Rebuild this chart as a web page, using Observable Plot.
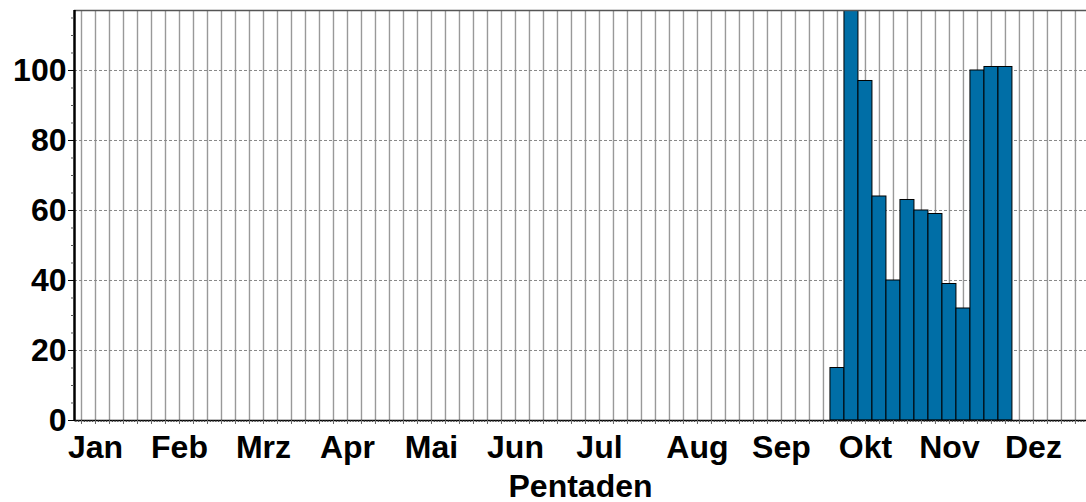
<!DOCTYPE html>
<html><head><meta charset="utf-8">
<script src="https://cdn.jsdelivr.net/npm/d3@7"></script>
<script src="https://cdn.jsdelivr.net/npm/@observablehq/plot@0.6"></script>
<style>body{margin:0;background:#fff;} svg{display:block;}</style>
</head><body><div id="chart"></div>
<script>
// Data
const pentads = d3.range(1, 74); // 73 pentads of the year
const barPentads = [55, 56, 57, 58, 59, 60, 61, 62, 63, 64, 65, 66, 67];
const barValues = [15, 117, 97, 64, 40, 63, 60, 59, 39, 32, 100, 101, 101];
const monthNames = ["Jan", "Feb", "Mrz", "Apr", "Mai", "Jun", "Jul", "Aug", "Sep", "Okt", "Nov", "Dez"];
const monthTickPentads = [2, 8, 14, 20, 26, 32, 38, 45, 51, 57, 63, 69];
const yTicks = [0, 20, 40, 60, 80, 100];
const yGridTicks = [20, 40, 60, 80, 100];
const yMinorTicks = d3.range(0, 116, 5);
const yMax = 117.14;
const xLabel = "Pentaden";

const bars = barPentads.map((p, i) => ({pentad: p, value: barValues[i]}));
const monthByPentad = new Map(monthTickPentads.map((p, i) => [p, monthNames[i]]));
const dayTicks = d3.range(0, 365).map(d => 0.5 + (d + 0.5) / 5);

const chart = Plot.plot({
  width: 1086,
  height: 502,
  marginLeft: 74,
  marginRight: 0,
  marginTop: 10,
  marginBottom: 82,
  style: {fontFamily: "'Liberation Sans', Arial, sans-serif", fontSize: "32px", fontWeight: "bold", color: "#000", background: "#fff"},
  x: {type: "linear", domain: [0.5, 72.79], label: null},
  y: {domain: [0, yMax], label: null},
  marks: [
    Plot.ruleX(pentads, {x: d => d, stroke: "#999", strokeWidth: 1.4, strokeOpacity: 1}),
    Plot.ruleY(yGridTicks, {y: d => d, stroke: "#888", strokeWidth: 1, strokeDasharray: "3,2", strokeOpacity: 1}),
    Plot.rectY(bars, {x1: d => d.pentad - 0.5, x2: d => d.pentad + 0.5, y: "value", fill: "#006ea6", stroke: "#000", strokeWidth: 1, clip: true}),
    Plot.ruleY([yMax], {stroke: "#555", strokeWidth: 1.5}),
    Plot.ruleY([0], {stroke: "#000", strokeWidth: 1.5}),
    Plot.ruleX([0.5], {stroke: "#000", strokeWidth: 2.5}),
    Plot.axisY({ticks: yMinorTicks, tickSize: 3, text: null, label: null, stroke: "#555"}),
    Plot.axisY({ticks: yTicks, tickSize: 6, tickPadding: 2, tickFormat: d => String(d), label: null, fontSize: 32, fontWeight: "bold", stroke: "#000"}),
    Plot.axisX({ticks: dayTicks, tickSize: 2, text: null, stroke: "#333", label: null}),
    Plot.axisX({ticks: pentads, tickSize: 4, text: null, stroke: "#666", label: null}),
    Plot.axisX({ticks: monthTickPentads, tickSize: 0, tickPadding: 15, tickFormat: d => monthByPentad.get(d), fontSize: 32, fontWeight: "bold", label: null}),
    Plot.axisX({ticks: [], tickSize: 0, text: null, label: xLabel, labelAnchor: "center", labelArrow: "none", labelOffset: 76, fontSize: 32, fontWeight: "bold"})
  ]
});
document.getElementById("chart").appendChild(chart);
</script>
</body></html>
